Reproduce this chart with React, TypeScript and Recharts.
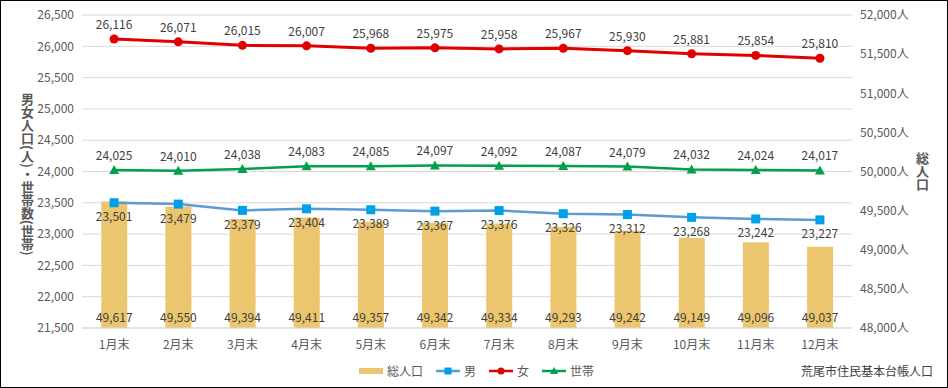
import React from "react";
import {
  ComposedChart,
  Bar,
  Line,
  XAxis,
  YAxis,
  CartesianGrid,
  Legend,
  LabelList,
} from "recharts";

const months = ["1月末", "2月末", "3月末", "4月末", "5月末", "6月末", "7月末", "8月末", "9月末", "10月末", "11月末", "12月末"];
const total = [49617, 49550, 49394, 49411, 49357, 49342, 49334, 49293, 49242, 49149, 49096, 49037];
const male = [23501, 23479, 23379, 23404, 23389, 23367, 23376, 23326, 23312, 23268, 23242, 23227];
const female = [26116, 26071, 26015, 26007, 25968, 25975, 25958, 25967, 25930, 25881, 25854, 25810];
const households = [24025, 24010, 24038, 24083, 24085, 24097, 24092, 24087, 24079, 24032, 24024, 24017];
const leftTicks = [21500, 22000, 22500, 23000, 23500, 24000, 24500, 25000, 25500, 26000, 26500];
const rightTicks = [48000, 48500, 49000, 49500, 50000, 50500, 51000, 51500, 52000];

const data = months.map((m, i) => ({
  name: m,
  total: total[i],
  male: male[i],
  female: female[i],
  households: households[i],
}));

const FONT = "'Noto Sans CJK JP', 'Noto Sans', sans-serif";
const GOLD = "#EBC66E";
const BLUE_LINE = "#5B9BD5";
const BLUE_DOT = "#00A0E9";
const RED = "#E00000";
const GREEN = "#00A04E";
const TEXT = "#404040";
const AXIS_TEXT = "#595959";

const fmt = (v: any) => Number(v).toLocaleString("en-US");

const SquareDot = (props: any) => {
  const { cx, cy } = props;
  if (cx == null || cy == null) return null;
  return <rect x={cx - 4.5} y={cy - 4.5} width={9} height={9} fill={BLUE_DOT} />;
};

const CircleDot = (props: any) => {
  const { cx, cy } = props;
  if (cx == null || cy == null) return null;
  return <circle cx={cx} cy={cy} r={4.5} fill={RED} />;
};

const TriDot = (props: any) => {
  const { cx, cy } = props;
  if (cx == null || cy == null) return null;
  return <polygon points={`${cx},${cy - 5} ${cx - 5},${cy + 4} ${cx + 5},${cy + 4}`} fill={GREEN} />;
};

const legendItems = [
  { name: "総人口", kind: "bar", color: GOLD },
  { name: "男", kind: "square", color: BLUE_LINE },
  { name: "女", kind: "circle", color: RED },
  { name: "世帯", kind: "tri", color: GREEN },
];

const renderLegend = () => (
  <div style={{ display: "flex", justifyContent: "center", gap: 12, fontFamily: FONT, fontSize: 12, color: AXIS_TEXT, marginLeft: 4 }}>
    {legendItems.map((it) => (
      <div key={it.name} style={{ display: "flex", alignItems: "center", gap: 3 }}>
        <svg width={26} height={12}>
          {it.kind === "bar" ? (
            <rect x={1} y={3} width={24} height={6} fill={it.color} />
          ) : (
            <>
              <line x1={1} y1={6} x2={25} y2={6} stroke={it.color} strokeWidth={2.5} />
              {it.kind === "square" && <rect x={9.5} y={2.5} width={7} height={7} fill={BLUE_DOT} />}
              {it.kind === "circle" && <circle cx={13} cy={6} r={3.5} fill={RED} />}
              {it.kind === "tri" && <polygon points="13,2 9,9 17,9" fill={GREEN} />}
            </>
          )}
        </svg>
        <span>{it.name}</span>
      </div>
    ))}
  </div>
);

export default function App() {
  return (
    <div
      style={{
        position: "absolute",
        left: 0,
        top: 0,
        width: 948,
        height: 388,
        border: "1px solid #000",
        boxSizing: "border-box",
        background: "#fff",
        fontFamily: FONT,
      }}
    >
      <ComposedChart
        width={946}
        height={386}
        data={data}
        margin={{ top: 14, right: 0, bottom: 14, left: 0 }}
        barCategoryGap="30%"
      >
        <CartesianGrid vertical={false} stroke="#D9D9D9" yAxisId="left" />
        <XAxis
          dataKey="name"
          tickLine={false}
          axisLine={{ stroke: "#D9D9D9" }}
          tick={{ fill: AXIS_TEXT, fontSize: 12, fontFamily: FONT }}
          height={28}
          tickMargin={6}
        />
        <YAxis
          yAxisId="left"
          domain={[21500, 26500]}
          ticks={leftTicks}
          tickFormatter={fmt}
          axisLine={false}
          tickLine={false}
          width={81}
          tick={{ fill: AXIS_TEXT, fontSize: 12, fontFamily: FONT }}
        />
        <YAxis
          yAxisId="right"
          orientation="right"
          domain={[48000, 52000]}
          ticks={rightTicks}
          tickFormatter={(v: any) => fmt(v) + "人"}
          axisLine={false}
          tickLine={false}
          width={95}
          tick={{ fill: AXIS_TEXT, fontSize: 12, fontFamily: FONT, textAnchor: "start" }}
        />
        <Legend verticalAlign="bottom" content={renderLegend} wrapperStyle={{ bottom: 8 }} />
        <Bar yAxisId="right" dataKey="total" name="総人口" fill={GOLD} isAnimationActive={false}>
          <LabelList dataKey="total" position="insideBottom" offset={6} formatter={fmt} fill={TEXT} fontSize={12} fontFamily={FONT} />
        </Bar>
        <Line
          yAxisId="left"
          dataKey="male"
          name="男"
          stroke={BLUE_LINE}
          strokeWidth={2.5}
          dot={<SquareDot />}
          isAnimationActive={false}
        >
          <LabelList dataKey="male" position="bottom" offset={10} formatter={fmt} fill={TEXT} fontSize={12} fontFamily={FONT} />
        </Line>
        <Line
          yAxisId="left"
          dataKey="female"
          name="女"
          stroke={RED}
          strokeWidth={3}
          dot={<CircleDot />}
          isAnimationActive={false}
        >
          <LabelList dataKey="female" position="top" offset={10} formatter={fmt} fill={TEXT} fontSize={12} fontFamily={FONT} />
        </Line>
        <Line
          yAxisId="left"
          dataKey="households"
          name="世帯"
          stroke={GREEN}
          strokeWidth={2.5}
          dot={<TriDot />}
          isAnimationActive={false}
        >
          <LabelList dataKey="households" position="top" offset={10} formatter={fmt} fill={TEXT} fontSize={12} fontFamily={FONT} />
        </Line>
      </ComposedChart>
      <div
        style={{
          position: "absolute",
          left: 19,
          top: 92,
          writingMode: "vertical-rl",
          fontSize: 13,
          lineHeight: "14px",
          fontWeight: 700,
          color: AXIS_TEXT,
        }}
      >
        男女人口(人)・世帯数(世帯)
      </div>
      <div
        style={{
          position: "absolute",
          left: 914,
          top: 151,
          writingMode: "vertical-rl",
          fontSize: 13,
          lineHeight: "14px",
          fontWeight: 700,
          color: AXIS_TEXT,
        }}
      >
        総人口
      </div>
      <div
        style={{
          position: "absolute",
          right: 14,
          bottom: 8,
          fontSize: 12,
          color: TEXT,
        }}
      >
        荒尾市住民基本台帳人口
      </div>
    </div>
  );
}
